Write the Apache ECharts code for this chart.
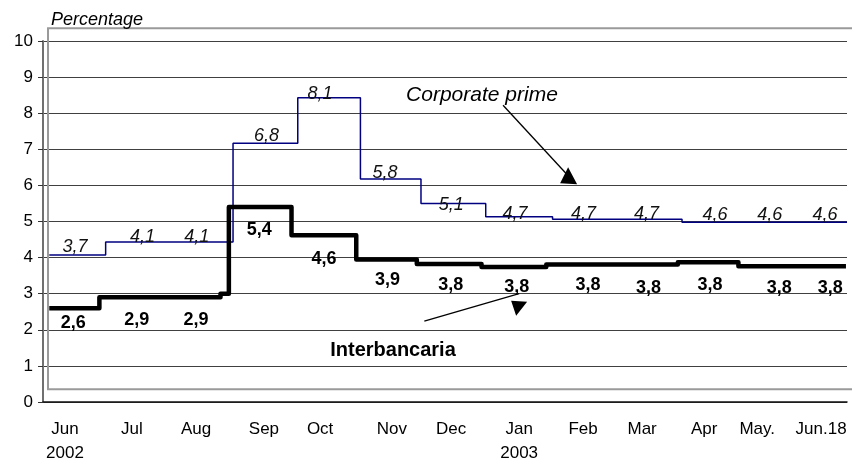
<!DOCTYPE html>
<html><head><meta charset="utf-8">
<script src="https://cdn.jsdelivr.net/npm/echarts@6/dist/echarts.min.js"></script>
<style>html,body{margin:0;padding:0;background:#fff}#c{width:852px;height:461px}</style>
</head><body><div id="c"></div>
<script>
// x values are days counted from 1 Jun 2002
const tickDays   = [10.5, 42.6, 73.3, 105.8, 132.7, 167.1, 195.4, 228, 258.6, 286.9, 316.6, 342, 372.6];
const tickLabels = ['Jun\n2002','Jul','Aug','Sep','Oct','Nov','Dec','Jan\n2003','Feb','Mar','Apr','May.','Jun.18'];

const primeDays  = [3, 30, 91, 122, 152, 181, 212, 244, 306, 385];
const primeRates = [4.07, 4.43, 7.17, 8.43, 6.18, 5.50, 5.13, 5.06, 4.98, 4.98];

const interDays  = [3, 27, 85, 89, 119, 150, 179, 210, 241, 304, 333, 384.5];
const interRates = [2.6, 2.9, 3.0, 5.4, 4.62, 3.95, 3.82, 3.74, 3.81, 3.87, 3.76, 3.76];

const primeLabels    = ['3,7','4,1','4,1','6,8','8,1','5,8','5,1','4,7','4,7','4,7','4,6','4,6','4,6'];
const primeLabelDays = [15.3, 47.7, 73.6, 107, 132.7, 163.8, 195.5, 226, 258.8, 289, 321.8, 348, 374.5];
const primeLabelVals = [4.30, 4.57, 4.57, 7.36, 8.54, 6.33, 5.45, 5.20, 5.20, 5.20, 5.17, 5.17, 5.17];

const interLabels    = ['2,6','2,9','2,9','5,4','4,6','3,9','3,8','3,8','3,8','3,8','3,8','3,8','3,8'];
const interLabelDays = [14.5, 44.9, 73.3, 103.6, 134.6, 165, 195.3, 226.9, 261, 290, 319.4, 352.6, 377];
const interLabelVals = [2.18, 2.27, 2.27, 4.76, 3.97, 3.39, 3.24, 3.19, 3.24, 3.15, 3.24, 3.15, 3.15];

const yTicks = [0,1,2,3,4,5,6,7,8,9,10];

const FONT = 'Liberation Sans, Arial, sans-serif';
const zip = (a, b) => a.map((v, i) => [v, b[i]]);

const chart = echarts.init(document.getElementById('c'), null, {renderer: 'canvas'});
const labelSeries = (days, vals, texts, labelStyle) => ({
  type: 'scatter', symbolSize: 1, silent: true, z: 6,
  itemStyle: {color: 'rgba(0,0,0,0)', opacity: 1},
  emphasis: {disabled: true},
  data: days.map((d, i) => ({value: [d, vals[i]], name: texts[i]})),
  label: Object.assign({show: true, position: 'inside', formatter: p => p.name,
    fontSize: 18, color: '#000', opacity: 1, fontFamily: FONT}, labelStyle)
});

const option = {
  animation: false,
  backgroundColor: '#ffffff',
  textStyle: {fontFamily: FONT},
  grid: {left: 43, right: 5, top: 41, bottom: 59, containLabel: false, outerBoundsMode: 'none'},
  xAxis: {
    type: 'value', min: 0, max: 385,
    axisLine: {show: true, onZero: false, lineStyle: {color: '#111', width: 1.5}},
    axisTick: {show: false},
    splitLine: {show: false},
    axisLabel: {
      customValues: tickDays,
      formatter: v => { const i = tickDays.indexOf(v); return i >= 0 ? tickLabels[i] : ''; },
      color: '#000', fontSize: 17, fontFamily: FONT, lineHeight: 24, margin: 15
    }
  },
  yAxis: {
    type: 'value', min: yTicks[0], max: yTicks[yTicks.length - 1], interval: 1,
    name: 'Percentage', nameLocation: 'end', nameGap: 12,
    nameTextStyle: {fontStyle: 'italic', fontSize: 18, color: '#000', align: 'left', padding: [0, 0, 0, 8], fontFamily: FONT},
    axisLine: {show: true, lineStyle: {color: '#707070', width: 2}},
    axisTick: {show: true, length: 5, lineStyle: {color: '#333', width: 1}},
    splitLine: {show: true, lineStyle: {color: '#404040', width: 1}},
    axisLabel: {color: '#000', fontSize: 17, fontFamily: FONT, margin: 10}
  },
  series: [
    {
      name: 'Corporate prime', type: 'line', step: 'end', symbol: 'none',
      data: zip(primeDays, primeRates),
      lineStyle: {color: '#000080', width: 1.5}, z: 3, silent: true
    },
    {
      name: 'Interbancaria', type: 'line', step: 'end', symbol: 'none',
      data: zip(interDays, interRates),
      lineStyle: {color: '#000000', width: 4.5, join: 'round'}, z: 4, silent: true
    },
    labelSeries(primeLabelDays, primeLabelVals, primeLabels, {fontStyle: 'italic', color: '#111'}),
    labelSeries(interLabelDays, interLabelVals, interLabels, {fontWeight: 'bold', color: '#000'})
  ]
};
chart.setOption(option);

// Annotations anchored in data coordinates
const px = (d, v) => chart.convertToPixel({gridIndex: 0}, [d, v]);
const primeText = px(210.2, 8.49);
const primeArrowA = px(220.3, 8.22), primeArrowB = px(254.8, 6.06);
const interText = px(167.6, 1.44);
const interArrowA = px(182.6, 2.24), interArrowB = px(228, 3.0);
const plotTopLeft = px(2.4, 10.35);
const plotBottom = px(2.4, 0.35);

chart.setOption({
  graphic: [
    {type: 'rect', z: 0, silent: true,
      shape: {x: plotTopLeft[0], y: plotTopLeft[1], width: 900, height: plotBottom[1] - plotTopLeft[1]},
      style: {fill: 'none', stroke: '#9a9a9a', lineWidth: 2}},
    {type: 'text', z: 10, x: primeText[0], y: primeText[1],
      style: {text: 'Corporate prime', font: 'italic 21px ' + FONT, fill: '#000', align: 'center', verticalAlign: 'middle'}},
    {type: 'line', z: 10, shape: {x1: primeArrowA[0], y1: primeArrowA[1], x2: primeArrowB[0], y2: primeArrowB[1]},
      style: {stroke: '#000', lineWidth: 1.3}},
    {type: 'polygon', z: 10, shape: {points: [[primeArrowB[0] - 7, primeArrowB[1] - 16], [primeArrowB[0] - 15, primeArrowB[1]], [primeArrowB[0] + 2, primeArrowB[1] + 1]]},
      style: {fill: '#000'}},
    {type: 'text', z: 10, x: interText[0], y: interText[1],
      style: {text: 'Interbancaria', font: 'bold 20px ' + FONT, fill: '#000', align: 'center', verticalAlign: 'middle'}},
    {type: 'line', z: 10, shape: {x1: interArrowA[0], y1: interArrowA[1], x2: interArrowB[0], y2: interArrowB[1]},
      style: {stroke: '#000', lineWidth: 1.3}},
    {type: 'polygon', z: 10, shape: {points: [[interArrowB[0] - 8, interArrowB[1] + 7], [interArrowB[0] + 8, interArrowB[1] + 8], [interArrowB[0] - 3, interArrowB[1] + 22]]},
      style: {fill: '#000'}}
  ]
});
</script>
</body></html>
